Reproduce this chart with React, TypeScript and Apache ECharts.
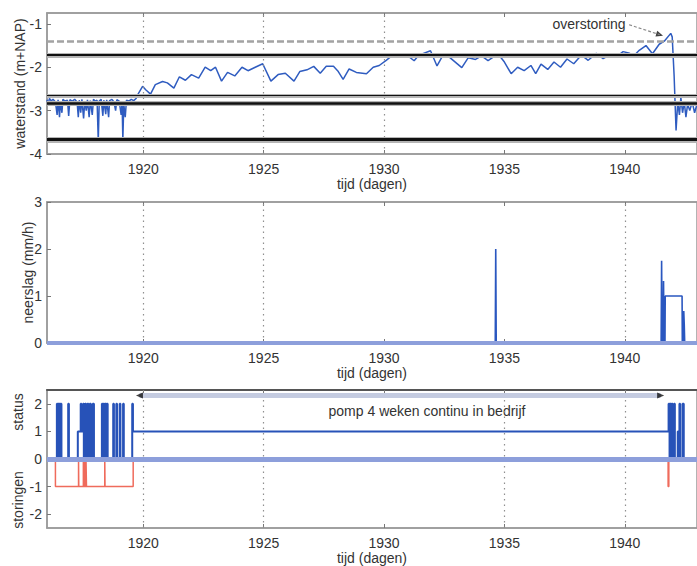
import React, { useEffect, useRef } from "react";
import * as echarts from "echarts";

// ---------- data ----------
const xTickValues = [1920, 1925, 1930, 1935, 1940];

// waterstand (m+NAP)
const waterT = [
  1916.0, 1916.05, 1916.1, 1916.18, 1916.25, 1916.35, 1916.42, 1916.46, 1916.52, 1916.56, 1916.62, 1916.66,
  1916.75, 1916.85, 1916.9, 1916.95, 1917.05, 1917.15, 1917.25, 1917.3, 1917.34, 1917.4, 1917.45, 1917.52,
  1917.57, 1917.63, 1917.68, 1917.75, 1917.8, 1917.88, 1917.93, 1918.0, 1918.08, 1918.13, 1918.17, 1918.25,
  1918.32, 1918.36, 1918.44, 1918.48, 1918.56, 1918.6, 1918.7, 1918.78, 1918.85, 1918.9, 1919.0, 1919.08,
  1919.12, 1919.15, 1919.19, 1919.25, 1919.3, 1919.4, 1919.5, 1919.6, 1919.7, 1919.8, 1919.97, 1920.1,
  1920.3, 1920.5, 1920.8, 1921.0, 1921.27, 1921.5, 1921.75, 1922.0, 1922.3, 1922.57, 1922.8, 1923.0,
  1923.25, 1923.5, 1923.8, 1924.1, 1924.35, 1924.65, 1924.96, 1925.3, 1925.6, 1925.9, 1926.26, 1926.5,
  1926.8, 1927.08, 1927.35, 1927.6, 1927.9, 1928.1, 1928.3, 1928.55, 1928.85, 1929.27, 1929.55, 1929.8,
  1930.09, 1930.43, 1930.7, 1930.95, 1931.25, 1931.45, 1931.93, 1932.2, 1932.45, 1932.7, 1933.23, 1933.5,
  1933.8, 1934.05, 1934.32, 1934.73, 1935.0, 1935.28, 1935.55, 1935.82, 1936.1, 1936.3, 1936.52, 1936.8,
  1937.06, 1937.33, 1937.6, 1937.88, 1938.2, 1938.48, 1938.82, 1939.1, 1939.37, 1939.65, 1939.93, 1940.2,
  1940.41, 1940.6, 1940.88, 1941.15, 1941.43, 1941.64, 1941.91, 1941.97, 1942.05, 1942.13, 1942.2, 1942.27,
  1942.33, 1942.4, 1942.47, 1942.54, 1942.61, 1942.7, 1942.8, 1942.9, 1943.0,
];
const waterV = [
  -2.75, -2.85, -2.72, -2.78, -2.74, -2.8, -3.1, -2.75, -3.15, -2.78, -3.05, -2.74,
  -2.78, -2.76, -3.12, -2.75, -2.78, -2.74, -2.8, -3.15, -2.76, -3.05, -2.74, -3.18,
  -2.78, -3.0, -2.75, -3.15, -2.77, -3.1, -2.74, -2.78, -2.76, -3.72, -2.78, -2.74,
  -3.12, -2.76, -3.08, -2.75, -3.15, -2.77, -2.74, -2.8, -3.0, -2.75, -2.78, -3.1,
  -2.8, -3.68, -2.85, -3.15, -2.76, -2.78, -2.74, -2.77, -2.72, -2.6, -2.44, -2.52,
  -2.62, -2.4, -2.33, -2.36, -2.48, -2.22, -2.3, -2.17, -2.25, -2.0, -2.08, -2.0,
  -2.32, -2.12, -2.2, -2.0, -2.08, -2.0, -1.92, -2.32, -2.17, -2.14, -2.32, -2.1,
  -2.06, -1.98, -2.14, -1.98, -1.98, -2.1, -2.28, -2.04, -2.12, -2.15, -2.0, -1.96,
  -1.84, -1.69, -1.76, -1.72, -1.85, -1.72, -1.62, -1.97, -1.72, -1.76, -2.01, -1.78,
  -1.82, -1.74, -1.85, -1.69, -1.88, -2.15, -2.0, -2.08, -1.96, -2.15, -1.93, -2.05,
  -1.88, -2.0, -1.81, -1.92, -1.72, -1.84, -1.68, -1.8, -1.72, -1.76, -1.64, -1.68,
  -1.72, -1.61, -1.5, -1.69, -1.47, -1.4, -1.22, -1.3, -2.2, -3.46, -2.8, -3.1,
  -2.7, -3.05, -2.8, -3.15, -2.85, -3.0, -2.8, -3.05, -2.85,
];
const thresholdLevels = [-1.72, -2.65, -2.84, -3.67];
const overflowLevel = -1.4;

// neerslag (mm/h)
const rainT = [
  1916.0, 1934.62, 1934.64, 1934.66, 1941.51, 1941.53, 1941.55, 1941.59, 1941.61, 1941.63, 1941.67, 1941.68,
  1942.38, 1942.39, 1942.44, 1942.45, 1942.47, 1942.49, 1943.0,
];
const rainV = [0, 0, 2.0, 0, 0, 1.75, 0, 0, 1.32, 0, 0, 1.0, 1.0, 0, 0, 0.68, 0.4, 0, 0];

// status (pomp)
const statusT = [
  1916.0, 1916.41, 1916.44, 1916.46, 1916.49, 1916.51, 1916.54, 1916.56, 1916.6, 1916.88, 1916.91,
  1917.28, 1917.4, 1917.43, 1917.5, 1917.53, 1917.58, 1917.62, 1917.68, 1917.72, 1917.78, 1917.82, 1917.9, 1917.95,
  1918.28, 1918.31, 1918.34, 1918.38, 1918.41, 1918.45, 1918.48, 1918.52,
  1918.75, 1918.78, 1918.88, 1918.91, 1919.02, 1919.05, 1919.16, 1919.19, 1919.54, 1919.57,
  1941.82, 1941.86, 1941.88, 1941.92, 1941.95, 1941.99, 1942.05, 1942.08, 1942.2, 1942.24, 1942.27, 1942.3,
  1942.4, 1942.45, 1943.0,
];
const statusV = [
  0, 2, 0, 2, 0, 2, 0, 2, 0, 2, 0,
  1, 2, 1, 2, 0, 2, 0, 2, 0, 2, 0, 2, 0,
  2, 0, 2, 0, 2, 0, 2, 0,
  2, 0, 2, 0, 2, 0, 2, 0, 2, 1,
  2, 0, 2, 0, 2, 0, 2, 0, 1, 0, 2, 0,
  2, 0, 0,
];

// storingen
const faultT = [
  1916.0, 1916.35, 1917.31, 1917.32, 1917.51, 1917.53, 1917.56, 1917.58, 1917.62, 1917.64, 1918.4, 1918.41,
  1919.58, 1941.8, 1941.83, 1943.0,
];
const faultV = [0, -1, 0, -1, 0, -1, 0, -1, 0, -1, 0, -1, 0, -1, 0, 0];

// visible dotted grid lines per panel
const gridLinesTop = [1920, 1925, 1930];
const gridLinesMid = [1920, 1925, 1940];
const gridLinesBot = [1920, 1925, 1935, 1940];

// annotations
const pumpArrow = { from: [1919.84, 2.3], to: [1941.49, 2.3] };
const overflowArrow = { from: [1940.18, -1.02], to: [1941.45, -1.25] };

// ---------- helpers ----------
const FONT = '"Liberation Sans", Arial, Helvetica, sans-serif';
const TXT = "#333";
const X_MIN = 1916;
const X_MAX = 1943;

const zip = (a: number[], b: number[]) => a.map((t, i) => [t, b[i]]);
const plain = (v: number) => String(v);

function xAxes(grid: number, topColor: string, topWidth: number) {
  const common = {
    type: "value",
    gridIndex: grid,
    min: X_MIN,
    max: X_MAX,
    splitLine: { show: false },
  };
  return [
    {
      ...common,
      position: "bottom",
      axisLine: { show: true, onZero: false, lineStyle: { color: "#9a9a9a", width: 1.5 } },
      axisTick: { show: true, inside: true, length: 4, customValues: xTickValues, lineStyle: { color: "#777" } },
      axisLabel: { customValues: xTickValues, formatter: plain, margin: 8, fontSize: 14, color: TXT, fontFamily: FONT },
      name: "tijd (dagen)",
      nameLocation: "middle",
      nameGap: 23,
      nameMoveOverlap: false,
      nameTextStyle: { fontSize: 14, color: TXT, fontFamily: FONT },
    },
    {
      ...common,
      position: "top",
      axisLine: { show: true, onZero: false, lineStyle: { color: topColor, width: topWidth } },
      axisTick: { show: true, inside: true, length: 4, customValues: xTickValues, lineStyle: { color: "#777" } },
      axisLabel: { show: false },
    },
  ];
}

function yAxis(grid: number, min: number, max: number, ticks: number[], name: string, nameGap: number) {
  return {
    type: "value",
    gridIndex: grid,
    min,
    max,
    position: "left",
    splitLine: { show: false },
    axisLine: { show: true, onZero: false, lineStyle: { color: "#9a9a9a", width: 1.5 } },
    axisTick: { show: true, inside: true, length: 4, customValues: ticks, lineStyle: { color: "#777" } },
    axisLabel: { customValues: ticks, formatter: plain, margin: 5, fontSize: 14, color: TXT, fontFamily: FONT },
    name,
    nameLocation: "middle",
    nameRotate: 90,
    nameGap,
    nameMoveOverlap: false,
    nameTextStyle: { fontSize: 14, color: TXT, fontFamily: FONT },
  };
}

const dotted = (vals: number[]) =>
  vals.map((v) => ({ xAxis: v, lineStyle: { color: "#8f8f8f", type: [1.5, 4], width: 1.2 } }));

const mlBase = { silent: true, symbol: ["none", "none"], label: { show: false }, animation: false };

export default function App() {
  const ref = useRef<HTMLDivElement>(null);

  useEffect(() => {
    if (!ref.current) return;
    const chart = echarts.init(ref.current, undefined, { renderer: "svg" });

    const haloWidths = [5, 4, 5, 6];
    const coreWidths = [2, 1.2, 2.5, 3];

    const option: any = {
      animation: false,
      backgroundColor: "#fff",
      grid: [
        { left: 47, right: -8, top: 13, height: 141, show: true, borderColor: "#9a9a9a", borderWidth: 1.5 },
        { left: 47, right: -8, top: 202, height: 141, show: true, borderColor: "#9a9a9a", borderWidth: 1.5 },
        { left: 47, right: -8, top: 390, height: 142, show: true, borderColor: "#9a9a9a", borderWidth: 1.5 },
      ],
      xAxis: [...xAxes(0, "#9a9a9a", 1.5), ...xAxes(1, "#9a9a9a", 1.5), ...xAxes(2, "#555", 2)],
      yAxis: [
        yAxis(0, -4, -0.75, [-4, -3, -2, -1], "waterstand (m+NAP)", 20),
        yAxis(1, 0, 3, [0, 1, 2, 3], "neerslag (mm/h)", 12),
        { ...yAxis(2, -2.5, 2.5, [-2, -1, 0, 1, 2], "", 10), name: "" },
      ],
      graphic: [
        {
          type: "text",
          x: 589,
          y: 24,
          style: { text: "overstorting", fontSize: 14, fill: TXT, fontFamily: FONT, align: "center", verticalAlign: "middle" },
        },
        {
          type: "text",
          x: 427,
          y: 411,
          style: {
            text: "pomp 4 weken continu in bedrijf",
            fontSize: 14,
            fill: TXT,
            fontFamily: FONT,
            align: "center",
            verticalAlign: "middle",
          },
        },
        {
          type: "text",
          x: 18,
          y: 412,
          rotation: Math.PI / 2,
          style: { text: "status", fontSize: 14, fill: TXT, fontFamily: FONT, align: "center", verticalAlign: "middle" },
        },
        {
          type: "text",
          x: 18,
          y: 500,
          rotation: Math.PI / 2,
          style: { text: "storingen", fontSize: 14, fill: TXT, fontFamily: FONT, align: "center", verticalAlign: "middle" },
        },
      ],
      series: [
        // ---- panel 1: reference lines ----
        {
          type: "line",
          xAxisIndex: 0,
          yAxisIndex: 0,
          data: [],
          z: 1,
          markLine: {
            ...mlBase,
            data: [
              ...dotted(gridLinesTop),
              {
                yAxis: overflowLevel,
                lineStyle: { color: "#a3a3a3", type: [7, 3], width: 2.5 },
              },
              ...thresholdLevels.map((v, i) => ({
                yAxis: v,
                lineStyle: { color: "#b5b5b5", type: "solid", width: haloWidths[i] },
              })),
              ...thresholdLevels.map((v, i) => ({
                yAxis: v,
                lineStyle: { color: "#111", type: "solid", width: coreWidths[i] },
              })),
              [
                { coord: overflowArrow.from, lineStyle: { color: "#8a8a8a", type: [3, 2], width: 1.2 } },
                { coord: overflowArrow.to },
              ],
            ],
          },
        },
        {
          type: "line",
          xAxisIndex: 0,
          yAxisIndex: 0,
          data: zip(waterT, waterV),
          showSymbol: false,
          z: 3,
          lineStyle: { color: "#2f5cc0", width: 1.5 },
          itemStyle: { color: "#2f5cc0" },
        },
        {
          type: "scatter",
          xAxisIndex: 0,
          yAxisIndex: 0,
          z: 4,
          symbol: "triangle",
          symbolSize: [6, 7],
          itemStyle: { color: "#111" },
          data: [{ value: overflowArrow.to, symbolRotate: -107 }],
        },
        // ---- panel 2 ----
        {
          type: "line",
          xAxisIndex: 2,
          yAxisIndex: 1,
          data: [],
          z: 1,
          markLine: { ...mlBase, data: dotted(gridLinesMid) },
        },
        {
          type: "line",
          xAxisIndex: 2,
          yAxisIndex: 1,
          data: zip(rainT, rainV),
          showSymbol: false,
          z: 3,
          lineStyle: { color: "#2a57c0", width: 1.6 },
          itemStyle: { color: "#2a57c0" },
        },
        {
          type: "line",
          xAxisIndex: 2,
          yAxisIndex: 1,
          data: [],
          z: 5,
          markLine: { ...mlBase, data: [{ yAxis: 0, lineStyle: { color: "#8d9fdb", type: "solid", width: 4 } }] },
        },
        // ---- panel 3 ----
        {
          type: "line",
          xAxisIndex: 4,
          yAxisIndex: 2,
          data: [],
          z: 1,
          markLine: {
            ...mlBase,
            data: [
              ...dotted(gridLinesBot),
              [
                { coord: pumpArrow.from, lineStyle: { color: "#c4cbe0", type: "solid", width: 5 } },
                { coord: pumpArrow.to },
              ],
            ],
          },
        },
        {
          type: "line",
          xAxisIndex: 4,
          yAxisIndex: 2,
          data: zip(faultT, faultV),
          step: "end",
          showSymbol: false,
          z: 2,
          lineStyle: { color: "#ef6b5c", width: 1.5 },
          itemStyle: { color: "#ef6b5c" },
        },
        {
          type: "line",
          xAxisIndex: 4,
          yAxisIndex: 2,
          data: zip(statusT, statusV),
          step: "end",
          showSymbol: false,
          z: 3,
          lineStyle: { color: "#2752b8", width: 2 },
          itemStyle: { color: "#2752b8" },
        },
        {
          type: "line",
          xAxisIndex: 4,
          yAxisIndex: 2,
          data: [],
          z: 5,
          markLine: { ...mlBase, data: [{ yAxis: 0, lineStyle: { color: "#8d9fdb", type: "solid", width: 5 } }] },
        },
        {
          type: "scatter",
          xAxisIndex: 4,
          yAxisIndex: 2,
          z: 6,
          symbol: "triangle",
          symbolSize: [6, 7],
          itemStyle: { color: "#111" },
          data: [
            { value: pumpArrow.from, symbolRotate: 90 },
            { value: pumpArrow.to, symbolRotate: -90 },
          ],
        },
      ],
    };

    chart.setOption(option);
    return () => chart.dispose();
  }, []);

  return (
    <div
      ref={ref}
      style={{ position: "fixed", left: 0, top: 0, width: 697, height: 566, background: "#fff" }}
    />
  );
}
